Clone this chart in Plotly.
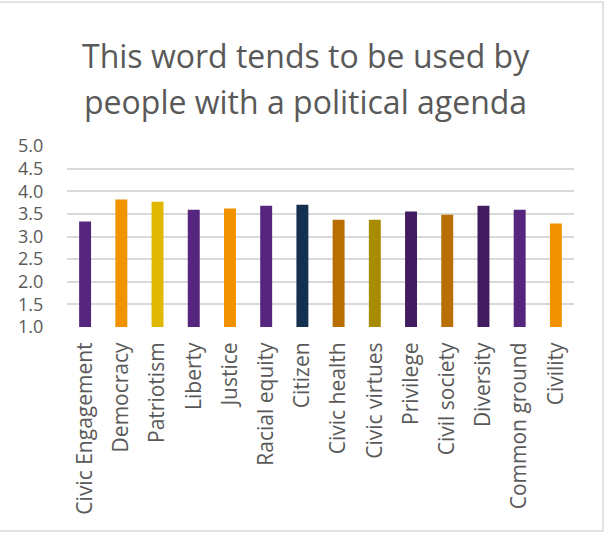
import plotly.graph_objects as go

categories = ["Civic Engagement", "Democracy", "Patriotism", "Liberty", "Justice",
              "Racial equity", "Citizen", "Civic health", "Civic virtues", "Privilege",
              "Civil society", "Diversity", "Common ground", "Civility"]
values = [3.33, 3.82, 3.77, 3.59, 3.62, 3.68, 3.70, 3.37, 3.37, 3.55, 3.48, 3.68, 3.59, 3.29]
bar_colors = ["#56267F", "#F39200", "#E1B800", "#56267F", "#F39200", "#56267F", "#13304F",
              "#B86E00", "#A78C00", "#421C5E", "#B86E00", "#421C5E", "#56267F", "#F39200"]
y_ticks = [1.0, 1.5, 2.0, 2.5, 3.0, 3.5, 4.0, 4.5, 5.0]
title_lines = ["This word tends to be used by", "people with a political agenda"]

W, H = 608, 533
L, R, T, B = 67, 34, 146, 206
pw, ph = W - L - R, H - T - B


def py(p):
    return (H - B - p) / ph


def px(p):
    return (p - L) / pw


fig = go.Figure(go.Bar(x=categories, y=values, marker=dict(color=bar_colors, line=dict(width=0))))

annotations = []
for text, center in zip(title_lines, [56, 101]):
    annotations.append(dict(text=text, xref="paper", yref="paper", x=px(305.5), y=py(center),
                            xanchor="center", yanchor="middle", showarrow=False,
                            font=dict(size=32, color="#595959", family="Open Sans")))

fig.update_layout(
    width=W, height=H,
    margin=dict(l=L, r=R, t=T, b=B, autoexpand=False),
    paper_bgcolor="white", plot_bgcolor="white",
    bargap=0.67,
    showlegend=False,
    font=dict(family="Open Sans", color="#595959"),
    annotations=annotations,
    xaxis=dict(tickangle=-90, tickfont=dict(size=21, color="#595959"),
               showline=False, showgrid=False, ticks="outside", ticklen=6,
               tickcolor="rgba(0,0,0,0)"),
    yaxis=dict(range=[1, 5], tickvals=y_ticks, tickformat=".1f",
               tickfont=dict(size=18, color="#595959"),
               showgrid=True, gridcolor="#D9D9D9", gridwidth=1.5,
               zeroline=False, showline=False, ticks="outside", ticklen=19,
               tickcolor="rgba(0,0,0,0)"),
    shapes=[dict(type="rect", xref="paper", yref="paper",
                 x0=px(-6), x1=px(603),
                 y0=py(531), y1=py(2),
                 line=dict(color="#D9D9D9", width=1.5), fillcolor="rgba(0,0,0,0)",
                 layer="below")],
)

fig.write_html("out.html", config={"displayModeBar": False},
               post_script="document.body.style.margin='0';document.body.style.overflow='hidden';")
